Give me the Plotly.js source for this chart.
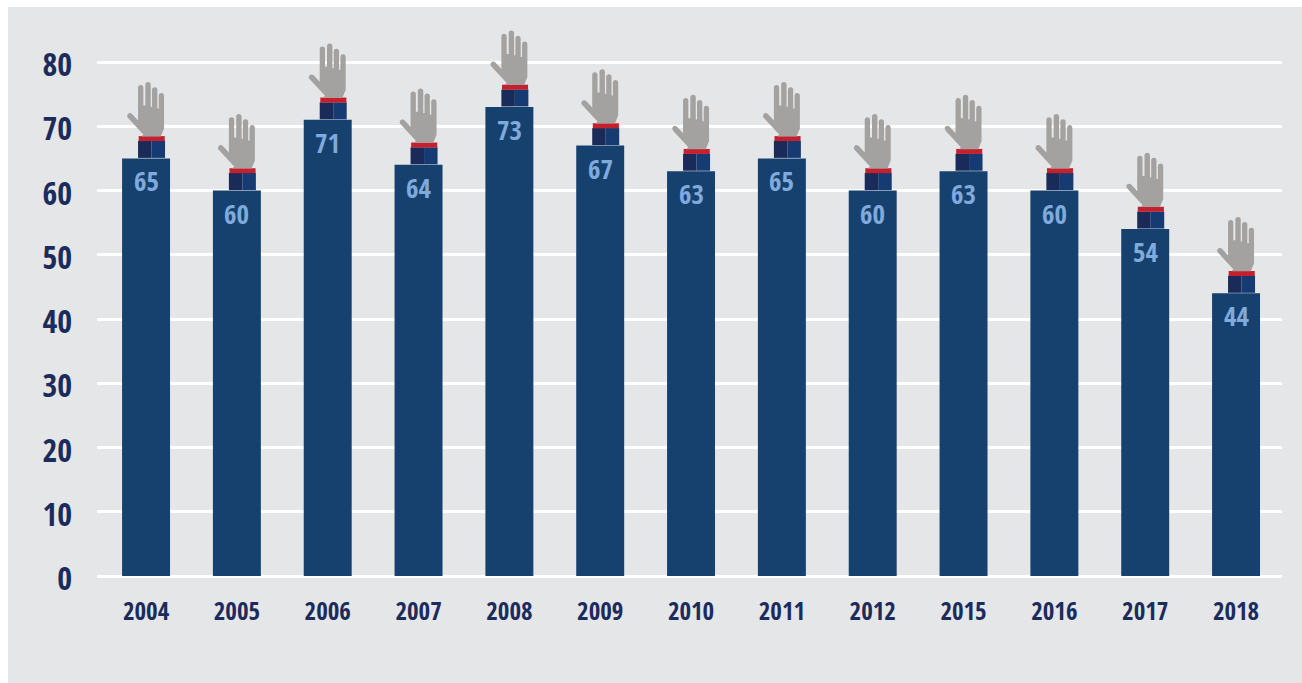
<!DOCTYPE html>
<html>
<head>
<meta charset="utf-8">
<script src="https://cdn.plot.ly/plotly-3.0.1.min.js"></script>
<style>
  html, body { margin: 0; padding: 0; background: #ffffff; overflow: hidden; }
  #chart { width: 1302px; height: 683px; }
</style>
</head>
<body>
<div id="chart"></div>
<script>
// Yearly totals; 2013 and 2014 are absent from the series.
const years = ['2004','2005','2006','2007','2008','2009','2010','2011','2012','2015','2016','2017','2018'];
const totals = [65, 60, 71, 64, 73, 67, 63, 65, 60, 63, 60, 54, 44];
const yTicks = [0, 10, 20, 30, 40, 50, 60, 70, 80];

const NAVY = '#16416f';
const TEXT_DARK = '#1b2c5c';
const LABEL_BLUE = '#7faadb';
const PANEL = '#e5e6e8';
const FONT = '"Open Sans Condensed", "Roboto Condensed", "Liberation Sans", sans-serif';

// Raised-hand glyph in pixels around the top centre of a bar, y pointing up.
const HAND =
  'M -4.7,22 L 14.7,22 L 18,30 L 18,62.5 Q 18,65.5 15.3,65.5 Q 12.7,65.5 12.7,62.5 L 12.7,50 ' +
  'L 11.3,50 L 11.3,68.5 Q 11.3,71.2 8.7,71.2 Q 6,71.2 6,68.5 L 6,51.7 ' +
  'L 4.7,51.7 L 4.7,73.7 Q 4.7,76.4 2,76.4 Q -0.7,76.4 -0.7,73.7 L -0.7,53 ' +
  'L -2.7,53 L -2.7,70.5 Q -2.7,73.3 -5.3,73.3 Q -8,73.3 -8,70.5 L -8,38 ' +
  'L -14,44.5 Q -16.5,46.5 -18.5,44 Q -19.7,42 -17.5,40 L -2.7,24 Z';

// Sleeve and cuff rectangles in the same pixel frame as the hand.
const SLEEVE_PARTS = [
  { x0: -8, x1: 5.5, y0: 0.5, y1: 17.5, color: '#1a2b5a' },
  { x0: 5.5, x1: 19, y0: 0.5, y1: 17.5, color: '#163a72' },
  { x0: -7.4, x1: 18.7, y0: 17.3, y1: 22.3, color: '#c4202e' }
];

function pixelShape(i, value, extra) {
  return Object.assign({
    xref: 'x', yref: 'y',
    xsizemode: 'pixel', ysizemode: 'pixel',
    xanchor: i, yanchor: value,
    line: { width: 0 }
  }, extra);
}

const shapes = [{
  type: 'rect', layer: 'below', xref: 'paper', yref: 'paper',
  x0: (8 - 97) / 1185, x1: (1302 - 97) / 1185,
  y0: -107 / 556, y1: (576 - 7) / 556,
  fillcolor: PANEL, line: { width: 0 }
}];

totals.forEach(function (v, i) {
  SLEEVE_PARTS.forEach(function (p) {
    shapes.push(pixelShape(i, v, {
      type: 'rect', x0: p.x0, x1: p.x1, y0: p.y0, y1: p.y1, fillcolor: p.color
    }));
  });
  shapes.push(pixelShape(i, v, { type: 'path', path: HAND, fillcolor: '#a3a2a0' }));
});

const annotations = totals.map(function (v, i) {
  return {
    x: i, y: v, xref: 'x', yref: 'y',
    text: String(v), showarrow: false,
    xanchor: 'center', yanchor: 'top', yshift: -2,
    font: { family: FONT, size: 27, color: LABEL_BLUE, weight: 700 }
  };
});

const trace = {
  type: 'bar',
  x: years,
  y: totals,
  marker: { color: NAVY, line: { width: 0 } },
  hoverinfo: 'x+y'
};

const layout = {
  width: 1302,
  height: 683,
  margin: { l: 97, r: 20, t: 20, b: 107 },
  paper_bgcolor: '#ffffff',
  plot_bgcolor: 'rgba(0,0,0,0)',
  showlegend: false,
  bargap: 0.472,
  xaxis: {
    type: 'category',
    range: [-0.54, 12.506],
    showgrid: false,
    zeroline: false,
    showline: false,
    ticks: '',
    ticklabelstandoff: 18,
    tickfont: { family: FONT, size: 25, color: TEXT_DARK, weight: 700 }
  },
  yaxis: {
    range: [0, 86.54],
    tickmode: 'array',
    tickvals: yTicks,
    ticktext: yTicks.map(String),
    showgrid: true,
    gridcolor: '#ffffff',
    gridwidth: 2.5,
    zeroline: true,
    zerolinecolor: '#ffffff',
    zerolinewidth: 2.5,
    showline: false,
    ticks: '',
    ticklabelstandoff: 24,
    ticklabelshift: 3,
    tickfont: { family: FONT, size: 32, color: TEXT_DARK, weight: 700 }
  },
  shapes: shapes,
  annotations: annotations
};

Plotly.newPlot('chart', [trace], layout, { displayModeBar: false, responsive: false });
</script>
</body>
</html>
